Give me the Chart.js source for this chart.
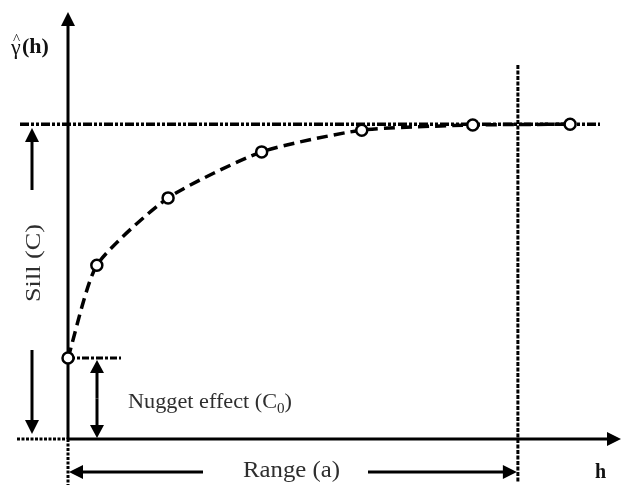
<!DOCTYPE html>
<html>
<head>
<meta charset="utf-8">
<script src="https://cdn.jsdelivr.net/npm/chart.js@4.4.0/dist/chart.umd.min.js"></script>
<style>
  html, body { margin: 0; padding: 0; background: #ffffff; }
  #wrap { width: 621px; height: 485px; }
</style>
</head>
<body>
<div id="wrap"><canvas id="variogram"></canvas></div>
<script>
// lag distance h and semivariance values
const lagH = [0, 5.3, 18.4, 35.6, 54.0, 74.4, 92.3];
const gammaValues = [19.0, 40.8, 56.6, 67.4, 72.5, 73.7, 73.9];
const sillValue = 73.9;
const nuggetValue = 19.0;
const rangeValue = 82.7;
const labels = { y: "(h)", x: "h", sill: "Sill (C)", nugget: "Nugget effect (C", range: "Range (a)" };

const points = lagH.map((h, i) => ({ x: h, y: gammaValues[i] }));

function arrow(ctx, x1, y1, x2, y2, len, half) {
    // line from (x1,y1) with arrowhead at (x2,y2)
    const a = Math.atan2(y2 - y1, x2 - x1);
    ctx.beginPath();
    ctx.moveTo(x1, y1);
    ctx.lineTo(x2 - Math.cos(a) * len * 0.8, y2 - Math.sin(a) * len * 0.8);
    ctx.stroke();
    ctx.beginPath();
    ctx.moveTo(x2, y2);
    ctx.lineTo(x2 - Math.cos(a) * len - Math.sin(a) * half, y2 - Math.sin(a) * len + Math.cos(a) * half);
    ctx.lineTo(x2 - Math.cos(a) * len + Math.sin(a) * half, y2 - Math.sin(a) * len - Math.cos(a) * half);
    ctx.closePath();
    ctx.fill();
}

// draw text squeezed or stretched to a given width
function fitText(ctx, txt, x, y, width) {
    const w = ctx.measureText(txt).width;
    ctx.save();
    ctx.translate(x, y);
    ctx.scale(width / w, 1);
    ctx.fillText(txt, 0, 0);
    ctx.restore();
}

const guides = {
    id: "guides",
    beforeDatasetsDraw(chart) {
        const ctx = chart.ctx, xs = chart.scales.x, ys = chart.scales.y;
        const x0 = xs.getPixelForValue(0), y0 = ys.getPixelForValue(0);
        const sy = ys.getPixelForValue(sillValue);
        const ny = ys.getPixelForValue(nuggetValue);
        const rx = xs.getPixelForValue(rangeValue);
        ctx.save();
        ctx.strokeStyle = "#000";
        ctx.fillStyle = "#000";

        // sill line
        ctx.lineWidth = 3.5;
        ctx.setLineDash([9, 2, 3, 2, 3, 2]);
        ctx.beginPath();
        ctx.moveTo(20, sy); ctx.lineTo(600, sy); ctx.stroke();

        // range line
        ctx.lineWidth = 3;
        ctx.setLineDash([4, 1.5]);
        ctx.beginPath();
        ctx.moveTo(rx, 65); ctx.lineTo(rx, 482); ctx.stroke();

        // nugget line
        ctx.lineWidth = 3;
        ctx.setLineDash([7, 2, 3, 2]);
        ctx.beginPath();
        ctx.moveTo(x0, ny); ctx.lineTo(121, ny); ctx.stroke();

        // axis extensions
        ctx.lineWidth = 3;
        ctx.setLineDash([3, 1.5]);
        ctx.beginPath();
        ctx.moveTo(17, y0); ctx.lineTo(x0, y0);
        ctx.moveTo(x0, y0); ctx.lineTo(x0, 485);
        ctx.stroke();

        // axes
        ctx.setLineDash([]);
        ctx.lineWidth = 3;
        arrow(ctx, x0, y0, x0, 12, 14, 7);
        arrow(ctx, x0, y0, 621, y0, 14, 7);

        // sill arrows
        arrow(ctx, 32, 190, 32, 128, 14, 7);
        arrow(ctx, 32, 350, 32, 434, 14, 7);

        // nugget arrow (two heads)
        const na = (ny + y0) / 2;
        arrow(ctx, 97, na, 97, ny + 2, 13, 7);
        arrow(ctx, 97, na, 97, y0 - 1, 13, 7);

        // range arrows
        arrow(ctx, 203, 472, x0 + 1, 472, 14, 7);
        arrow(ctx, 368, 472, rx - 1, 472, 14, 7);

        // texts
        ctx.fillStyle = "#2e2e2e";
        ctx.textAlign = "left";
        ctx.textBaseline = "alphabetic";
        ctx.font = "23px 'Liberation Serif'";
        fitText(ctx, labels.range, 243, 477, 97);

        ctx.save();
        ctx.translate(40, 302);
        ctx.rotate(-Math.PI / 2);
        ctx.font = "22px 'Liberation Serif'";
        fitText(ctx, labels.sill, 0, 0, 78);
        ctx.restore();

        // nugget label with subscript
        ctx.font = "22px 'Liberation Serif'";
        const w1 = ctx.measureText(labels.nugget).width;
        ctx.font = "15px 'Liberation Serif'";
        const w2 = ctx.measureText("0").width;
        ctx.font = "22px 'Liberation Serif'";
        const w3 = ctx.measureText(")").width;
        const k = 164 / (w1 + w2 + w3);
        ctx.save();
        ctx.translate(128, 408);
        ctx.scale(k, 1);
        ctx.fillText(labels.nugget, 0, 0);
        ctx.font = "15px 'Liberation Serif'";
        ctx.fillText("0", w1, 5);
        ctx.font = "22px 'Liberation Serif'";
        ctx.fillText(")", w1 + w2, 0);
        ctx.restore();

        ctx.fillStyle = "#111";
        ctx.font = "bold 20px 'Liberation Serif'";
        ctx.fillText(labels.x, 595, 478);

        ctx.font = "22px 'Liberation Serif'";
        ctx.fillText("\u03b3", 11, 54);
        ctx.font = "15px 'Liberation Serif'";
        ctx.fillText("^", 13, 44);
        ctx.font = "bold 22px 'Liberation Serif'";
        ctx.fillText(labels.y, 22, 53);
        ctx.restore();
    }
};

new Chart(document.getElementById("variogram").getContext("2d"), {
    type: "scatter",
    data: {
        datasets: [{
            data: points,
            showLine: true,
            tension: 0.2,
            borderColor: "#000",
            borderWidth: 3.5,
            borderDash: [11, 6],
            pointRadius: 5.5,
            pointBorderWidth: 2.5,
            pointBackgroundColor: "#fff",
            pointBorderColor: "#000",
            clip: false
        }]
    },
    options: {
        responsive: true,
        maintainAspectRatio: false,
        animation: false,
        layout: { padding: { left: 68, right: 9, top: 13, bottom: 46 } },
        scales: {
            x: { type: "linear", min: 0, max: 100, display: false },
            y: { type: "linear", min: 0, max: 100, display: false }
        },
        plugins: {
            legend: { display: false },
            tooltip: { enabled: false }
        }
    },
    plugins: [guides]
});
</script>
</body>
</html>
